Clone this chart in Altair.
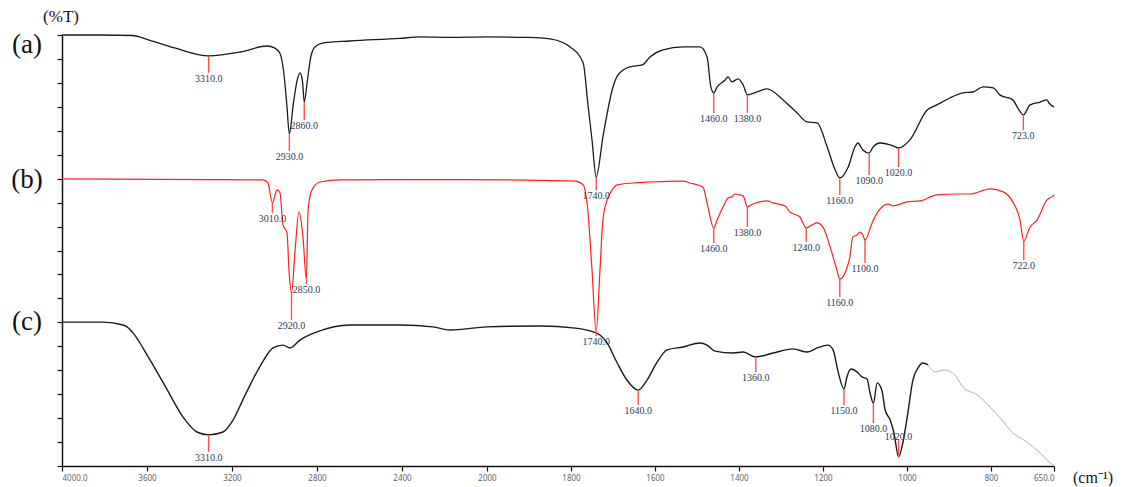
import altair as alt
import pandas as pd

# ---- spectrum (a) ----
a_wn = [4000, 3820, 3670, 3590, 3470, 3310, 3160, 3035, 3000, 2975, 2955, 2942, 2930, 2912,
        2895, 2880, 2868, 2860, 2845, 2830, 2810, 2770, 2645, 2410, 2315, 2175, 2000, 1900,
        1850, 1802, 1771, 1760, 1750, 1740, 1724, 1700, 1688, 1660, 1630, 1612, 1581, 1533,
        1493, 1476, 1467, 1460, 1452, 1433, 1426, 1417, 1402, 1390, 1380, 1357, 1333, 1295,
        1262, 1238, 1214, 1190, 1171, 1160, 1140, 1124, 1117, 1105, 1090, 1081, 1064, 1033,
        1020, 993, 952, 929, 898, 867, 843, 819, 795, 779, 748, 736, 723, 707, 683, 667, 662, 650]
a_t = [180.0, 180.0, 179.8, 177.9, 174.6, 171.3, 172.9, 175.4, 174.6, 172.5, 163.3, 150.8, 138.7, 150.8,
       160.4, 164.2, 160.4, 152.0, 161.2, 170.4, 175.0, 176.7, 177.5, 178.6, 179.2, 179.0, 179.2, 179.0,
       178.4, 175.0, 168.3, 151.6, 136.2, 120.7, 137.4, 158.3, 163.3, 166.7, 167.5, 170.8, 173.8, 175.0,
       175.0, 170.8, 158.3, 155.8, 158.3, 161.2, 162.5, 160.4, 161.7, 159.1, 155.0, 156.2, 157.5, 152.9,
       147.5, 143.7, 143.3, 133.2, 123.6, 120.3, 124.9, 133.2, 134.9, 132.0, 130.7, 133.2, 134.9, 133.7,
       132.8, 136.2, 148.7, 150.8, 153.7, 155.8, 156.2, 158.3, 157.9, 155.0, 152.9, 149.5, 146.6, 150.8,
       152.0, 152.9, 151.6, 150.0]
a_peaks = [3310, 2930, 2860, 1740, 1460, 1380, 1160, 1090, 1020, 723]
a_ticks = [17, 17, 18, 13, 20, 18, 17, 22, 19, 15]

# ---- spectrum (b) ----
b_wn = [4000, 3054, 3031, 3010, 2988, 2974, 2960, 2941, 2932, 2920, 2903, 2885, 2866, 2850,
        2842, 2824, 2786, 2692, 2174, 1790, 1771, 1760, 1750, 1740, 1731, 1724, 1714, 1702,
        1690, 1652, 1612, 1533, 1517, 1486, 1476, 1460, 1452, 1438, 1426, 1417, 1410, 1390,
        1380, 1367, 1333, 1319, 1290, 1279, 1255, 1240, 1226, 1214, 1200, 1183, 1167, 1160,
        1143, 1136, 1129, 1119, 1112, 1105, 1100, 1083, 1071, 1045, 1033, 1000, 969, 929,
        881, 850, 802, 771, 748, 731, 722, 707, 690, 667, 652, 650]
b_t = [119.9, 119.5, 118.2, 109.9, 115.3, 114.0, 100.7, 97.3, 81.9, 72.3, 90.2, 106.1, 95.7, 77.7,
       106.9, 115.3, 118.6, 119.5, 119.6, 119.0, 117.4, 106.9, 81.9, 56.0, 81.9, 102.8, 111.1, 115.3,
       117.4, 118.2, 118.6, 119.0, 118.2, 116.5, 109.9, 99.4, 102.8, 108.2, 111.9, 112.4, 113.6, 112.8,
       108.2, 109.4, 110.7, 109.9, 108.6, 106.1, 104.0, 99.4, 100.7, 101.5, 99.8, 91.5, 81.9, 78.1,
       82.7, 87.3, 95.7, 96.5, 97.7, 96.5, 94.4, 101.5, 105.7, 109.4, 108.6, 110.3, 110.7, 113.2,
       113.6, 113.6, 115.7, 114.5, 110.3, 102.8, 94.0, 99.8, 102.8, 111.1, 112.8, 113.2]
b_peaks = [3010, 2920, 2850, 1740, 1460, 1380, 1240, 1160, 1100, 722]
b_ticks = [10, 27, 4, 4, 15, 20, 14, 18, 23, 19]

# ---- spectrum (c) ----
c_wn = [4000, 3807, 3713, 3694, 3666, 3586, 3506, 3431, 3365, 3310, 3242, 3195, 3139, 3059,
        3007, 2960, 2927, 2880, 2800, 2645, 2409, 2254, 2174, 2000, 1874, 1790, 1755, 1731,
        1714, 1690, 1667, 1640, 1619, 1595, 1571, 1533, 1493, 1476, 1457, 1414, 1390, 1360,
        1319, 1271, 1238, 1214, 1188, 1176, 1164, 1150, 1143, 1133, 1119, 1107, 1095, 1088,
        1080, 1071, 1060, 1052, 1040, 1031, 1020, 1010, 998, 986, 974, 962, 950]
c_t = [60.1, 60.1, 58.9, 58.1, 55.6, 44.3, 32.0, 20.5, 14.2, 13.0, 14.2, 19.2, 29.5, 43.0,
       49.3, 50.5, 49.3, 52.6, 56.0, 58.9, 58.9, 58.1, 56.8, 58.1, 58.5, 57.6, 56.4, 54.7,
       51.4, 43.0, 35.9, 31.7, 35.9, 43.4, 48.5, 49.7, 51.4, 50.5, 48.0, 47.2, 47.6, 45.5,
       47.2, 48.9, 47.6, 49.3, 50.5, 48.5, 39.3, 32.2, 37.2, 40.5, 39.3, 37.2, 36.3, 30.5,
       26.3, 34.7, 31.7, 23.4, 19.2, 13.8, 3.8, 9.6, 22.1, 35.9, 40.9, 43.0, 42.2]
c_tail_wn = [950, 933, 910, 886, 867, 833, 802, 774, 748, 714, 683, 652, 650]
c_tail_t = [42.2, 39.3, 40.1, 38.0, 33.0, 29.7, 24.6, 19.2, 13.8, 10.0, 5.4, 0.4, 0.2]
c_peaks = [3310, 1640, 1360, 1150, 1080, 1020]
c_ticks = [17, 15, 15, 16, 20, -17]

x_ticks = [4000, 3600, 3200, 2800, 2400, 2000, 1800, 1600, 1400, 1200, 1000, 800, 650]

PLOT_W, PLOT_H = 992, 431
U_PER_PX = 180.0 / PLOT_H

xscale = alt.Scale(domain=[4000, 2000, 650], range=[0, 425, PLOT_W], nice=False, zero=False)
yscale = alt.Scale(domain=[0, 180], nice=False, zero=False)

x_axis = alt.Axis(values=x_ticks, title=None, grid=False, tickSize=5, tickColor="#111",
                  domainColor="#111", domainWidth=1.5, tickWidth=1.2,
                  labelFont="Noto Sans", labelFontSize=8, labelColor="#666", labelPadding=3,
                  labelExpr="datum.value == 4000 || datum.value == 650 ? format(datum.value, '.1f') : format(datum.value, 'd')")
y_axis = alt.Axis(values=list(range(0, 181, 10)), labels=False, title=None, grid=False,
                  tickSize=5, tickColor="#111", domainColor="#111", domainWidth=1.5, tickWidth=1.2)

X = lambda f: alt.X(f, scale=xscale, axis=x_axis)
Y = lambda f: alt.Y(f, scale=yscale, axis=y_axis)


def spec_df(wn, t):
    return pd.DataFrame({"wn": wn, "t": t})


def peak_df(wn, t, peaks, ticks):
    look = dict(zip(wn, t))
    rows = []
    for p, tk in zip(peaks, ticks):
        y = look[p]
        rows.append({"wn": p, "t": y, "t2": y - tk * U_PER_PX, "label": f"{p:.1f}", "up": tk < 0})
    return pd.DataFrame(rows)


def line_layer(df, color, width):
    return alt.Chart(df).mark_line(color=color, strokeWidth=width, interpolate="monotone").encode(
        x=X("wn:Q"), y=Y("t:Q"))


def peak_layers(df):
    rules = alt.Chart(df).mark_rule(color="#ff4d4d", strokeWidth=1.4).encode(
        x=X("wn:Q"), y=Y("t:Q"), y2="t2:Q")
    down = alt.Chart(df[~df["up"]]).mark_text(
        font="Liberation Serif", fontSize=10, color="#2b3a5a", baseline="top", dy=1, align="center"
    ).encode(x=X("wn:Q"), y=Y("t2:Q"), text="label:N")
    layers = [rules, down]
    if df["up"].any():
        up = alt.Chart(df[df["up"]]).mark_text(
            font="Liberation Serif", fontSize=10, color="#2b3a5a", baseline="bottom", dy=2, align="center"
        ).encode(x=X("wn:Q"), y=Y("t2:Q"), text="label:N")
        layers.append(up)
    return layers


layers = [
    line_layer(spec_df(a_wn, a_t), "#1a1a1a", 1.3),
    line_layer(spec_df(b_wn, b_t), "#ff1f1f", 1.2),
    line_layer(spec_df(c_tail_wn, c_tail_t), "#a8a8a8", 0.9),
    line_layer(spec_df(c_wn, c_t), "#1a1a1a", 1.4),
]
layers += peak_layers(peak_df(a_wn, a_t, a_peaks, a_ticks))
layers += peak_layers(peak_df(b_wn, b_t, b_peaks, b_ticks))
layers += peak_layers(peak_df(c_wn, c_t, c_peaks, c_ticks))

# annotations outside the plot area
panel_labels = pd.DataFrame({"t": ["(a)", "(b)", "(c)"], "yy": [10, 145, 287]})
layers.append(
    alt.Chart(panel_labels).mark_text(font="Liberation Serif", fontSize=27, color="#111",
                                      align="center", baseline="middle").encode(
        x=alt.value(-35), y=alt.Y("yy:Q", scale=None, axis=None), text="t:N")
)
layers.append(
    alt.Chart(pd.DataFrame({"t": ["(%T)"]})).mark_text(font="Liberation Serif", fontSize=17, color="#111",
                                                      align="center", baseline="middle").encode(
        x=alt.value(-1), y=alt.value(-18), text="t:N")
)
layers.append(
    alt.Chart(pd.DataFrame({"t": ["(cm⁻¹)"]})).mark_text(font="Liberation Serif", fontSize=16, color="#111",
                                                        align="right", baseline="middle").encode(
        x=alt.value(1051), y=alt.value(443), text="t:N")
)

chart = alt.layer(*layers).properties(
    width=PLOT_W, height=PLOT_H,
    autosize=alt.AutoSizeParams(type="none"),
    padding={"left": 54, "top": 27, "right": 60, "bottom": 20},
).configure_view(stroke=None)

chart.save("out.html", embed_options={"renderer": "svg", "actions": False})
